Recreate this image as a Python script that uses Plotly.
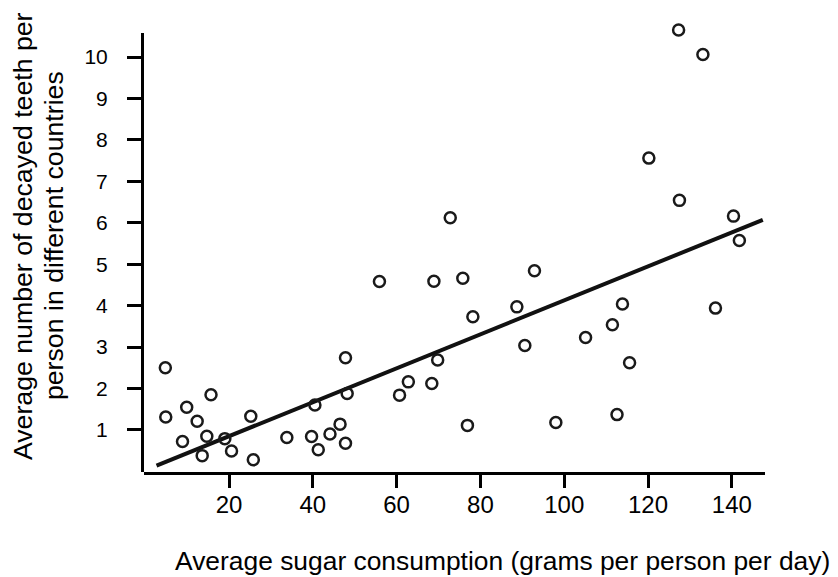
import plotly.graph_objects as go

# Sugar consumption (g/person/day) and decayed teeth per person
sugar = [4.8, 4.9, 9.9, 15.7, 12.4, 8.9, 14.7, 13.6, 19.0, 20.6, 25.2, 25.8,
         33.8, 39.7, 40.5, 41.3, 44.1, 46.5, 47.8, 47.8, 48.2, 60.7, 62.8,
         68.4, 55.9, 68.9, 72.8, 75.8, 69.8, 78.2, 76.9, 88.7, 90.6, 92.9,
         98.0, 105.1, 111.5, 113.9, 112.6, 115.6, 120.2, 127.5, 127.3, 133.1,
         136.1, 140.4, 141.8]
teeth = [2.50, 1.31, 1.55, 1.85, 1.21, 0.72, 0.85, 0.38, 0.79, 0.49, 1.33, 0.28,
         0.82, 0.84, 1.60, 0.52, 0.90, 1.14, 0.68, 2.74, 1.88, 1.84, 2.16,
         2.12, 4.58, 4.59, 6.12, 4.66, 2.69, 3.73, 1.11, 3.97, 3.04, 4.84,
         1.18, 3.23, 3.54, 4.04, 1.37, 2.62, 7.56, 6.54, 10.65, 10.06,
         3.94, 6.16, 5.57]

# Trend line end points
trend_x = [2.7, 147.4]
trend_y = [0.14, 6.07]

x_ticks = [20, 40, 60, 80, 100, 120, 140]
x_ticklabels = ["20", "40", "60", "80", "100", "120", "140"]
y_ticks = [1, 2, 3, 4, 5, 6, 7, 8, 9, 10]
y_ticklabels = ["1", "2", "3", "4", "5", "6", "7", "8", "9", "10"]

x_title = "Average sugar consumption (grams per person per day)"
y_title_lines = ["Average number of decayed teeth per", "person in different countries"]

FONT = "Liberation Sans, Arial, Helvetica, sans-serif"

X_RANGE = [-0.29, 147.92]
Y_RANGE = [-0.015, 10.748]
Y_AXIS_TOP = 10.58
Y_AXIS_BOTTOM = -0.087

fig = go.Figure()
fig.add_trace(go.Scatter(
    x=trend_x, y=trend_y, mode="lines",
    line=dict(color="#111111", width=4),
    hoverinfo="skip", showlegend=False,
))
fig.add_trace(go.Scatter(
    x=sugar, y=teeth, mode="markers",
    marker=dict(symbol="circle-open", size=11, color="#1a1a1a",
                line=dict(width=2.5, color="#1a1a1a")),
    showlegend=False, cliponaxis=False,
))

# vertical axis line (stops below the top of the plotting range)
fig.add_shape(type="line", xref="paper", yref="y",
              x0=-1.5 / 621, x1=-1.5 / 621, y0=Y_AXIS_BOTTOM, y1=Y_AXIS_TOP,
              line=dict(color="black", width=3))

fig.update_layout(
    width=830, height=569, autosize=False,
    margin=dict(l=136, r=73, t=18, b=105),
    paper_bgcolor="white", plot_bgcolor="white",
    font=dict(family=FONT, color="black"),
    showlegend=False,
    xaxis=dict(
        range=X_RANGE, showgrid=False, zeroline=False,
        showline=True, linecolor="black", linewidth=3,
        tickmode="array", tickvals=x_ticks, ticktext=x_ticklabels,
        ticks="outside", ticklen=13, tickwidth=3, tickcolor="black",
        tickfont=dict(size=24, family=FONT, color="black"),
        ticklabelstandoff=-4,
    ),
    yaxis=dict(
        range=Y_RANGE, showgrid=False, zeroline=False,
        showline=False,
        tickmode="array", tickvals=y_ticks, ticktext=y_ticklabels,
        ticks="outside", ticklen=16, tickwidth=3, tickcolor="black",
        tickfont=dict(size=21, family=FONT, color="black"),
        ticklabelstandoff=15,
    ),
    annotations=[
        dict(text=y_title_lines[0], xref="paper", yref="paper", x=0, y=0.529,
             xanchor="center", yanchor="middle", xshift=-121,
             textangle=-90, showarrow=False,
             font=dict(size=26.7, family=FONT, color="black")),
        dict(text=y_title_lines[1], xref="paper", yref="paper", x=0, y=0.529,
             xanchor="center", yanchor="middle", xshift=-90,
             textangle=-90, showarrow=False,
             font=dict(size=26.7, family=FONT, color="black")),
        dict(text=x_title, xref="paper", yref="paper", x=(494 - 136) / 621, y=0,
             xanchor="center", yanchor="middle", yshift=-89,
             showarrow=False,
             font=dict(size=26.4, family=FONT, color="black")),
    ],
)

fig.write_html("out.html")
